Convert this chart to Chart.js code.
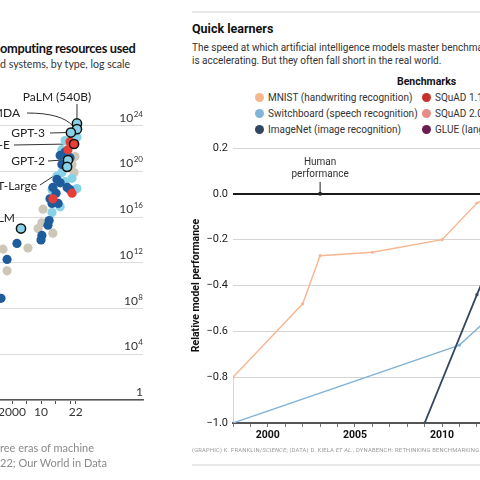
<!DOCTYPE html>
<html>
<head>
<meta charset="utf-8">
<script src="https://cdn.jsdelivr.net/npm/chart.js@4"></script>
<style>
body { margin: 0; background: #fff; }
#page { position: relative; width: 480px; height: 480px; overflow: hidden; background: #fff; }
.t { position: absolute; white-space: nowrap; }
.econ { font-family: Lato, sans-serif; }
.sci { font-family: Roboto, sans-serif; }
</style>
</head>
<body>
<div id="page">
  <div class="t econ" style="left:0;top:40px;font-size:12.8px;font-weight:700;color:#121212;line-height:16px;letter-spacing:-0.3px">omputing resources used</div>
  <div class="t econ" style="left:0;top:57px;font-size:10.6px;color:#333;line-height:14px">d systems, by type, log scale</div>
  <canvas id="canvas" width="150" height="480" style="position:absolute;left:0;top:0"></canvas>
  <div class="t econ" style="left:0;top:440px;font-size:11px;color:#8a8a8a;line-height:15px">ree eras of machine<br>22; Our World in Data</div>

  <div style="position:absolute;left:192px;top:11px;width:300px;height:2px;background:#e8e8e8"></div>
  <div class="t sci" style="left:192px;top:21px;font-size:12.5px;font-weight:700;color:#111;line-height:16px">Quick learners</div>
  <div class="t sci" style="left:192px;top:41px;font-size:10px;color:#333;line-height:13px">The speed at which artificial intelligence models master benchmarks<br>is accelerating. But they often fall short in the real world.</div>
  <div class="t sci" style="left:397px;top:75px;font-size:10.5px;font-weight:700;color:#111;line-height:14px">Benchmarks</div>
  <div id="legend"></div>
  <canvas id="canvas2" width="452" height="480" style="position:absolute;left:180px;top:0"></canvas>
  <div class="t sci" style="left:192px;top:447px;font-size:5.8px;color:#9a9a9a;letter-spacing:0.2px">(GRAPHIC) K. FRANKLIN/<i>SCIENCE</i>; (DATA) D. KIELA <i>ET AL.</i>, DYNABENCH: RETHINKING BENCHMARKING IN NLP</div>
  <div style="position:absolute;left:192px;top:464px;width:300px;height:2px;background:#e8e8e8"></div>
</div>
<script>
// ---- left chart: computing resources (log10 of FLOPs) ----
const yearTicks = [2000, 2005, 2010, 2015, 2020, 2022];
const yearLabels = ['2000', '', '10', '', '', '22'];
const powerTicks = [0, 4, 8, 12, 16, 20, 24];

const otherYears = [2021.7, 2020.7, 2021.4, 2010.7, 2010.3, 2009.0, 2014.1, 2005.5, 1996.9, 1998.3];
const otherExp = [21.3, 20.6, 19.9, 16.7, 15.5, 15.0, 14.6, 13.3, 13.2, 11.3];
const languageYears = [2022.4, 2018.3, 2017.2, 2017.2, 2018.3, 2015.5, 2020.7, 2022.4, 2013.8, 2016.6, 2013.8];
const languageExp = [23.0, 22.7, 21.9, 19.9, 19.1, 19.6, 19.4, 18.5, 18.4, 16.9, 16.4];
const visionYears = [2016.6, 2018.3, 2020.0, 2017.2, 2015.5, 2014.1, 2016.6, 2019.0, 2020.0, 2013.1, 2013.8, 2015.2, 2015.9, 2012.8, 2012.4, 2010.3, 2010.0, 2001.7, 1998.3, 1996.2];
const visionExp = [21.4, 21.7, 21.2, 20.6, 19.3, 18.6, 19.0, 18.6, 18.4, 17.6, 17.2, 18.1, 17.2, 15.7, 15.3, 14.4, 14.0, 13.7, 12.3, 8.9];
const multimodalYears = [2020.0, 2019.3, 2020.7, 2014.1];
const multimodalExp = [22.6, 21.9, 18.1, 17.6];
const notableNames = ['PaLM (540B)', 'LaMDA', 'GPT-3', 'DALL-E', 'GPT-2', 'BERT-Large', 'NPLM'];
const notableYears = [2022.4, 2022.4, 2020.3, 2021.4, 2019.3, 2019.0, 2003.1];
const notableExp = [24.2, 23.7, 23.4, 22.4, 21.0, 20.4, 15.0];
const notableTypes = ['language', 'language', 'language', 'multimodal', 'language', 'language', 'language'];

// ---- right chart: benchmarks ----
const benchNames = ['MNIST (handwriting recognition)', 'Switchboard (speech recognition)', 'ImageNet (image recognition)',
  'SQuAD 1.1 (reading comprehension)', 'SQuAD 2.0 (reading comprehension)', 'GLUE (language understanding)'];
const benchColors = ['#f6b690', '#82b4d8', '#34465f', '#c8312b', '#ea8c85', '#6c1d4f'];
const mnistYears = [1998, 1998, 2002, 2003, 2006, 2010, 2012, 2013];
const mnistScores = [-1.0, -0.8, -0.48, -0.27, -0.255, -0.2, -0.04, 0.0];
const switchboardYears = [1998, 2011, 2014];
const switchboardScores = [-1.0, -0.66, -0.45];
const imagenetYears = [2009, 2012, 2014];
const imagenetScores = [-1.0, -0.44, -0.08];
const humanYear = 2003;

const typeColors = { other: '#cdc7b8', language: '#88d2e8', vision: '#1f5c9c', multimodal: '#e63e36' };
const toPower = (xs, es) => xs.map((x, i) => ({ x: x, y: Math.pow(10, es[i]) }));
const toPoints = (xs, ys) => xs.map((x, i) => ({ x: x, y: ys[i] }));
const noSidePadding = s => { s.paddingLeft = 0; s.paddingRight = 0; };

const powerLabels = {
  id: 'powerLabels',
  afterDatasetsDraw(chart) {
    const { ctx, chartArea, scales: { y } } = chart;
    ctx.save();
    ctx.fillStyle = '#333';
    ctx.textAlign = 'right';
    ctx.textBaseline = 'alphabetic';
    powerTicks.forEach(p => {
      const py = y.getPixelForValue(Math.pow(10, p)) - 4;
      const right = chartArea.right;
      if (p === 0) {
        ctx.font = '12px Lato';
        ctx.fillText('1', right, py);
        return;
      }
      ctx.font = '8px Lato';
      const ew = ctx.measureText(String(p)).width;
      ctx.fillText(String(p), right, py - 5);
      ctx.font = '12px Lato';
      ctx.fillText('10', right - ew - 0.5, py);
    });
    ctx.restore();
  }
};

// where each name sits and where its leader line starts
const noteLayout = {
  'PaLM (540B)': { tx: 57, ty: 97, align: 'center', from: [77, 104], to: [0, -5] },
  'LaMDA': { tx: 20, ty: 113, align: 'right', from: [27, 113], to: [-4, -3], curve: [62, 113] },
  'GPT-3': { tx: 45, ty: 133, align: 'right', from: [50, 133], to: [-5, 0] },
  'DALL-E': { tx: 10, ty: 145, align: 'right', from: [14, 145], to: [-5, 0] },
  'GPT-2': { tx: 45, ty: 161, align: 'right', from: [48, 161], to: [-5, 0] },
  'BERT-Large': { tx: 37, ty: 186, align: 'right', from: [40, 185], to: [-4, 3] },
  'NPLM': { tx: 15, ty: 218, align: 'right' }
};

const systemNotes = {
  id: 'systemNotes',
  beforeDatasetsDraw(chart) {
    const { ctx } = chart;
    const pts = chart.getDatasetMeta(0).data;
    ctx.save();
    ctx.strokeStyle = '#333';
    ctx.lineWidth = 1;
    notableNames.forEach((name, i) => {
      const n = noteLayout[name];
      if (!n.from) return;
      const ex = pts[i].x + n.to[0], ey = pts[i].y + n.to[1];
      ctx.beginPath();
      ctx.moveTo(n.from[0], n.from[1]);
      if (n.curve) ctx.quadraticCurveTo(n.curve[0], n.curve[1], ex, ey);
      else ctx.lineTo(ex, ey);
      ctx.stroke();
    });
    ctx.restore();
  },
  afterDatasetsDraw(chart) {
    const { ctx } = chart;
    ctx.save();
    ctx.font = '12px Lato';
    ctx.fillStyle = '#222';
    ctx.textBaseline = 'middle';
    notableNames.forEach(name => {
      const n = noteLayout[name];
      ctx.textAlign = n.align;
      ctx.fillText(name, n.tx, n.ty);
    });
    ctx.restore();
  }
};

const data = {
  datasets: [{
    label: 'Notable systems',
    data: toPower(notableYears, notableExp),
    backgroundColor: notableTypes.map(t => typeColors[t]),
    borderColor: '#111',
    borderWidth: 1.5
  }, {
    label: 'Multimodal',
    data: toPower(multimodalYears, multimodalExp),
    backgroundColor: typeColors.multimodal,
    borderWidth: 0
  }, {
    label: 'Vision',
    data: toPower(visionYears, visionExp),
    backgroundColor: typeColors.vision,
    borderWidth: 0
  }, {
    label: 'Language',
    data: toPower(languageYears, languageExp),
    backgroundColor: typeColors.language,
    borderWidth: 0
  }, {
    label: 'Other',
    data: toPower(otherYears, otherExp),
    backgroundColor: typeColors.other,
    borderWidth: 0
  }]
};
const config = {
  type: 'scatter',
  data: data,
  options: {
    responsive: false,
    animation: false,
    layout: { autoPadding: false, padding: { top: 80, bottom: 56, left: 0, right: 7 } },
    elements: { point: { radius: 4.6, hoverRadius: 4.6 } },
    plugins: { legend: { display: false }, tooltip: { enabled: false } },
    scales: {
      x: {
        type: 'linear',
        min: 1995.86,
        max: 2045.17,
        afterBuildTicks: s => { s.ticks = yearTicks.map(v => ({ value: v })); },
        afterFit: s => { s.height = 24; noSidePadding(s); },
        ticks: {
          autoSkip: false, maxRotation: 0, padding: 1,
          color: '#333', font: { family: 'Lato', size: 12 },
          callback: (v, i) => yearLabels[i]
        },
        grid: { drawOnChartArea: false, tickLength: 4, color: '#555' },
        border: { color: '#555', width: 1.5 }
      },
      y: {
        type: 'logarithmic',
        position: 'right',
        min: 1,
        max: 1e28,
        afterBuildTicks: s => { s.ticks = powerTicks.map(p => ({ value: Math.pow(10, p) })); },
        afterFit: s => { s.width = 0; },
        ticks: { display: false },
        grid: { color: '#dcdcdc', lineWidth: 1, drawTicks: false },
        border: { display: false }
      }
    }
  },
  plugins: [systemNotes, powerLabels]
};
const myChart = new Chart(document.querySelector('#canvas'), config);

// legend for the benchmarks
const legendBox = document.getElementById('legend');
benchNames.forEach((name, i) => {
  const el = document.createElement('div');
  el.className = 't sci';
  el.style.left = (i < 3 ? 255 : 422) + 'px';
  el.style.top = (91 + (i % 3) * 16) + 'px';
  el.style.fontSize = '10px';
  el.style.lineHeight = '14px';
  el.style.color = '#333';
  el.innerHTML = '<span style="display:inline-block;width:9px;height:9px;border-radius:50%;margin-right:4px;vertical-align:-1px;background:' +
    benchColors[i] + '"></span>' + name;
  legendBox.appendChild(el);
});

const humanNote = {
  id: 'humanNote',
  afterDatasetsDraw(chart) {
    const { ctx, scales: { x, y } } = chart;
    const px = x.getPixelForValue(humanYear), py = y.getPixelForValue(0);
    ctx.save();
    ctx.strokeStyle = '#222';
    ctx.lineWidth = 1;
    ctx.beginPath();
    ctx.moveTo(px, py - 12);
    ctx.lineTo(px, py);
    ctx.stroke();
    ctx.fillStyle = '#222';
    ctx.beginPath();
    ctx.arc(px, py, 2, 0, 2 * Math.PI);
    ctx.fill();
    ctx.font = '10px Roboto';
    ctx.fillStyle = '#333';
    ctx.textAlign = 'center';
    ctx.textBaseline = 'middle';
    ctx.fillText('performance', px, py - 19);
    ctx.fillText('Human', px, py - 31);
    ctx.restore();
  }
};

const lineSet = (i, xs, ys, order, width) => ({
  label: benchNames[i],
  data: toPoints(xs, ys),
  borderColor: benchColors[i],
  backgroundColor: benchColors[i],
  borderWidth: width,
  pointRadius: 1.6,
  pointBorderWidth: 0,
  tension: 0,
  order: order
});
const data2 = {
  datasets: [
    lineSet(0, mnistYears, mnistScores, 3, 1.4),
    lineSet(1, switchboardYears, switchboardScores, 2, 1.4),
    lineSet(2, imagenetYears, imagenetScores, 1, 1.8)
  ]
};
const config2 = {
  type: 'line',
  data: data2,
  options: {
    responsive: false,
    animation: false,
    layout: { autoPadding: false, padding: { top: 148, bottom: 37, left: 0, right: 0 } },
    plugins: { legend: { display: false }, tooltip: { enabled: false } },
    scales: {
      x: {
        type: 'linear',
        min: 1998,
        max: 2020.9,
        afterFit: s => { s.height = 20; noSidePadding(s); },
        ticks: {
          stepSize: 1, autoSkip: false, maxRotation: 0, padding: 2,
          color: '#111', font: { family: 'Roboto', size: 10.5, weight: 'bold' },
          callback: v => (v % 5 === 0 ? String(v) : '')
        },
        grid: { drawOnChartArea: false, tickLength: 4, color: '#777' },
        border: { color: '#555', width: 2 }
      },
      y: {
        min: -1,
        max: 0.2,
        afterFit: s => { s.width = 53; },
        ticks: {
          stepSize: 0.2, padding: 5,
          color: '#222', font: { family: 'Roboto', size: 11 },
          callback: v => (Math.abs(v) < 1e-9 ? '0.0' : (v < 0 ? '\u2212' : '') + Math.abs(v).toFixed(1))
        },
        grid: {
          drawTicks: false,
          color: c => (Math.abs(c.tick.value) < 1e-9 ? '#1a1a1a' : (c.tick.value < -0.99 ? '#555' : '#d4d4d4')),
          lineWidth: c => (Math.abs(c.tick.value) < 1e-9 || c.tick.value < -0.99 ? 2 : 1)
        },
        border: { display: false },
        title: {
          display: true,
          text: 'Relative model performance',
          color: '#111',
          font: { family: 'Roboto', size: 10.5, weight: 'bold' },
          padding: { top: 10, bottom: 0 }
        }
      }
    }
  },
  plugins: [humanNote]
};
const myChart2 = new Chart(document.querySelector('#canvas2'), config2);
</script>
</body>
</html>
